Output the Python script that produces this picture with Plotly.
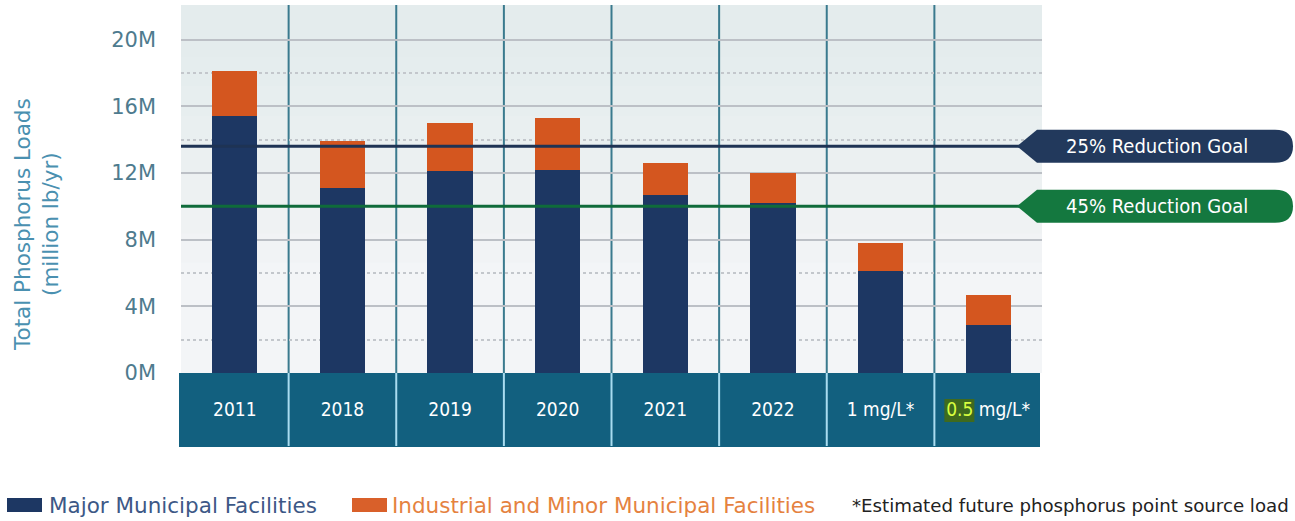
import plotly.graph_objects as go

# ---------------- data ----------------
categories = ["2011", "2018", "2019", "2020", "2021", "2022", "1 mg/L*", "0.5 mg/L*"]
major_municipal = [15.4, 11.1, 12.1, 12.2, 10.7, 10.2, 6.1, 2.9]          # million lb/yr
industrial_minor = [2.7, 2.8, 2.9, 3.1, 1.9, 1.8, 1.7, 1.8]                # million lb/yr
goal_25 = 13.6
goal_45 = 10.0
y_tick_vals = [0, 4, 8, 12, 16, 20]
y_tick_text = ["0M", "4M", "8M", "12M", "16M", "20M"]

# ---------------- layout geometry (pixels) ----------------
W, H = 1295, 521
L, R, T, B = 181, 253, 5, 148
PW, PH = W - L - R, H - T - B
YMAX = PH / 16.67


def px(x):
    return (x - L) / PW


def py(y):
    return (H - B - y) / PH


NAVY = "#1d3763"
ORANGE = "#d4561f"
BAND = "#12607f"
COND = "DejaVu Sans Condensed, Liberation Sans Narrow, sans-serif"
SANS = "DejaVu Sans, sans-serif"

fig = go.Figure()
fig.add_trace(go.Bar(x=categories, y=major_municipal, name="Major Municipal Facilities",
                     marker=dict(color=NAVY, line=dict(width=0)), width=0.42))
fig.add_trace(go.Bar(x=categories, y=industrial_minor, name="Industrial and Minor Municipal Facilities",
                     marker=dict(color=ORANGE, line=dict(width=0)), width=0.42))

shapes = []
# soft vertical shading of plot background (top slightly darker), built from overlapping layers
for k in range(8):
    shapes.append(dict(type="rect", xref="paper", yref="paper", x0=0, x1=1, y0=0.3 + k * 0.08, y1=1,
                       fillcolor="#dfe2e7", line=dict(width=0), layer="below", opacity=0.08))
# bottom band with category labels
shapes.append(dict(type="rect", xref="paper", yref="paper", x0=px(179), x1=px(1040),
                   y0=py(447), y1=0, fillcolor=BAND, line=dict(width=0), layer="below"))
n = len(categories)
# highlight behind "0.5"
shapes.append(dict(type="rect", xref="x", yref="paper", x0=n - 1.5 + (944 - 934) / 107.6,
                   x1=n - 1.5 + (974 - 934) / 107.6, y0=py(422), y1=py(399),
                   fillcolor="#3f6a1e", line=dict(width=0), layer="below"))
for i in range(n - 1):
    # vertical separators above band
    shapes.append(dict(type="line", xref="x", yref="paper", x0=i + 0.5, x1=i + 0.5, y0=0, y1=1,
                       line=dict(color="#3a7a8e", width=2), layer="below"))
    # light separators inside band
    shapes.append(dict(type="line", xref="x", yref="paper", x0=i + 0.5, x1=i + 0.5, y0=py(446), y1=0,
                       line=dict(color="#a9dcf0", width=2), layer="above"))

# goal lines and tags
for val, lcol, tcol in [(goal_25, "#1e3354", "#22395c"), (goal_45, "#0f6b3a", "#14783f")]:
    shapes.append(dict(type="line", xref="paper", yref="y", x0=0, x1=px(1030), y0=val, y1=val,
                       line=dict(color=lcol, width=3), layer="above"))
    hh = 16.5 / 16.67
    xt, xb, xr, rx = px(1017), px(1037), px(1293), 18 / PW
    path = (f"M {xt},{val} L {xb},{val + hh} L {xr - rx},{val + hh} "
            f"Q {xr},{val + hh} {xr},{val} Q {xr},{val - hh} {xr - rx},{val - hh} "
            f"L {xb},{val - hh} Z")
    shapes.append(dict(type="path", xref="paper", yref="y", path=path, fillcolor=tcol,
                       line=dict(width=0), layer="above"))

# legend swatches
shapes.append(dict(type="rect", xref="paper", yref="paper", x0=px(7), x1=px(42), y0=py(512), y1=py(498),
                   fillcolor=NAVY, line=dict(width=0)))
shapes.append(dict(type="rect", xref="paper", yref="paper", x0=px(352), x1=px(387), y0=py(512), y1=py(498),
                   fillcolor="#d9602a", line=dict(width=0)))

annotations = [
    dict(text="25% Reduction Goal", xref="paper", yref="y", x=px(1157), y=goal_25, showarrow=False,
         font=dict(family=COND, size=20, color="white"), xanchor="center", yanchor="middle"),
    dict(text="45% Reduction Goal", xref="paper", yref="y", x=px(1157), y=goal_45, showarrow=False,
         font=dict(family=COND, size=20, color="white"), xanchor="center", yanchor="middle"),
    dict(text="Total Phosphorus Loads<br>(million lb/yr)", xref="paper", yref="paper", x=px(36), y=py(225),
         textangle=-90, showarrow=False, font=dict(family=SANS, size=21.5, color="#4a90b0"),
         xanchor="center", yanchor="middle"),
    dict(text="Major Municipal Facilities", xref="paper", yref="paper", x=px(47), y=py(505),
         showarrow=False, xanchor="left", yanchor="middle",
         font=dict(family=SANS, size=21.5, color="#3d5886")),
    dict(text="Industrial and Minor Municipal Facilities", xref="paper", yref="paper", x=px(390), y=py(505),
         showarrow=False, xanchor="left", yanchor="middle",
         font=dict(family=SANS, size=21.5, color="#e5823f")),
    dict(text="*Estimated future phosphorus point source load", xref="paper", yref="paper", x=px(850), y=py(505),
         showarrow=False, xanchor="left", yanchor="middle",
         font=dict(family=SANS, size=18.2, color="#222222")),
]

ticktext = [c if c != "0.5 mg/L*" else "<span style='color:#d8ff40'>0.5</span> mg/L*" for c in categories]

fig.update_layout(
    width=W, height=H,
    margin=dict(l=L, r=R, t=T, b=B, pad=0),
    barmode="stack",
    showlegend=False,
    paper_bgcolor="white",
    plot_bgcolor="#f3f5f7",
    shapes=shapes,
    annotations=annotations,
    xaxis=dict(type="category", categoryorder="array", categoryarray=categories,
               tickvals=categories, ticktext=ticktext, showgrid=False, zeroline=False,
               showline=False, ticks="", ticklabelstandoff=23,
               tickfont=dict(family=COND, size=19, color="white"), range=[-0.5, n - 0.5]),
    yaxis=dict(range=[0, YMAX], tickvals=y_tick_vals, ticktext=y_tick_text,
               showgrid=True, gridcolor="#bcc0c6", gridwidth=2, zeroline=False, showline=False,
               ticks="", ticklabelstandoff=24,
               tickfont=dict(family=SANS, size=21, color="#4e7b8e"),
               minor=dict(tickvals=[2, 6, 10, 14, 18], showgrid=True, gridcolor="#c3c7cc",
                          griddash="dot", gridwidth=1.5)),
)

fig.write_html("out.html", config={"displayModeBar": False},
               post_script="document.body.style.margin='0px';")
